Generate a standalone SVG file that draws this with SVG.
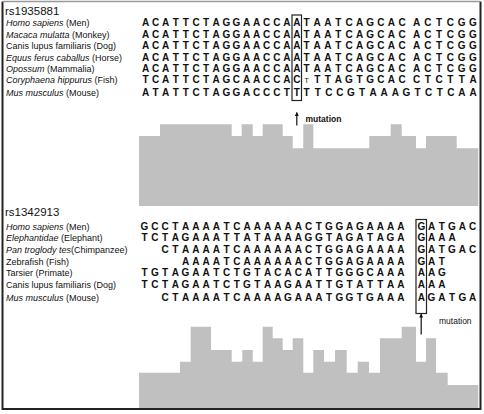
<svg xmlns="http://www.w3.org/2000/svg" width="484" height="414" viewBox="0 0 484 414">
<style>
.lbl{font-family:"Liberation Sans",Arial,sans-serif;font-size:9px;fill:#111}
.it{font-style:italic}
.rs{font-family:"Liberation Sans",Arial,sans-serif;font-size:11.5px;fill:#111}
.seq{font-family:"Liberation Sans",Arial,sans-serif;font-size:10px;font-weight:bold;fill:#111;text-anchor:middle}
.mut{font-family:"Liberation Sans",Arial,sans-serif;font-size:8.5px;fill:#111}
.bar{fill:#c0c0c0}
.box{fill:none;stroke:#222;stroke-width:1.2}
.arr{stroke:#111;stroke-width:1.2;fill:none;marker-end:url(#ah)}
</style>
<defs>
<marker id="ah" viewBox="0 0 10 10" refX="9" refY="5" markerWidth="4" markerHeight="4" orient="auto" markerUnits="userSpaceOnUse">
<path d="M0,0 L10,5 L0,10 Z" fill="#111"/>
</marker>
</defs>
<rect x="0" y="0" width="484" height="414" fill="#fff"/>

<g id="block1">
<text class="rs" x="5" y="15">rs1935881</text>
<g id="labels1" class="lbl">
<text x="6" y="26"><tspan class="it">Homo sapiens</tspan> (Men)</text>
<text x="6" y="37.5"><tspan class="it">Macaca mulatta</tspan> (Monkey)</text>
<text x="6" y="49">Canis lupus familiaris (Dog)</text>
<text x="6" y="60.5"><tspan class="it">Equus ferus caballus</tspan> (Horse)</text>
<text x="6" y="71.5"><tspan class="it">Opossum</tspan>  (Mammalia)</text>
<text x="6" y="83"><tspan class="it">Coryphaena hippurus</tspan> (Fish)</text>
<text x="6" y="95.5"><tspan class="it">Mus musculus</tspan> (Mouse)</text>
</g>
<g id="seqs1">
<text class="seq" y="26" x="145.5 155.6 165.7 175.8 185.9 196 206.1 216.2 226.3 236.4 246.5 256.6 266.7 276.8 286.9 296.8 306.6 317.2 327.8 338.4 349 359.6 370.2 380.8 391.4 402 416.5 427.8 439.1 450.4 461.7 473">ACATTCTAGGAACCAATAATCAGCACACTCGG</text>
<text class="seq" y="37.5" x="145.5 155.6 165.7 175.8 185.9 196 206.1 216.2 226.3 236.4 246.5 256.6 266.7 276.8 286.9 296.8 306.6 317.2 327.8 338.4 349 359.6 370.2 380.8 391.4 402 416.5 427.8 439.1 450.4 461.7 473">ACATTCTAGGAACCAATAATCAGCACACTCGG</text>
<text class="seq" y="49" x="145.5 155.6 165.7 175.8 185.9 196 206.1 216.2 226.3 236.4 246.5 256.6 266.7 276.8 286.9 296.8 306.6 317.2 327.8 338.4 349 359.6 370.2 380.8 391.4 402 416.5 427.8 439.1 450.4 461.7 473">ACATTCTAGGAACCAATAATCAGCACACTCGG</text>
<text class="seq" y="60.5" x="145.5 155.6 165.7 175.8 185.9 196 206.1 216.2 226.3 236.4 246.5 256.6 266.7 276.8 286.9 296.8 306.6 317.2 327.8 338.4 349 359.6 370.2 380.8 391.4 402 416.5 427.8 439.1 450.4 461.7 473">ACATTCTAGGAACCAATAATCAGCACACTCGG</text>
<text class="seq" y="71.5" x="145.5 155.6 165.7 175.8 185.9 196 206.1 216.2 226.3 236.4 246.5 256.6 266.7 276.8 286.9 296.8 306.6 317.2 327.8 338.4 349 359.6 370.2 380.8 391.4 402 416.5 427.8 439.1 450.4 461.7 473">ACATTCTAGGAACCAATAATCAGCACACTCGG</text>
<text class="seq" y="83" x="145.5 155.6 165.7 175.8 185.9 196 206.1 216.2 226.3 236.4 246.5 256.6 266.7 276.8 286.9 296.8 306.6 317.2 327.8 338.4 349 359.6 370.2 380.8 391.4 402 416.5 427.8 439.1 450.4 461.7 473">TCATTCTAGCAACCAC<tspan font-size="7" font-weight="normal">T</tspan>TTAGTGCACCTCTTA</text>
<text class="seq" y="95.5" x="145.5 155.6 165.7 175.8 185.9 196 206.1 216.2 226.3 236.4 246.5 256.6 266.7 276.8 286.9 296.8 306.6 317.7 328.8 339.9 351 362.1 373.1 384.2 395.3 406.4 417.5 428.6 439.7 450.8 461.9 473">ATATTCTAGGACCCTTTTCCGTAAAGTCTCAA</text>
</g>
<rect id="box1" class="box" x="292" y="15" width="9.5" height="85.5"/>
<path id="chart1" class="bar" d="M139,206 V136 H160 V124.3 H231.7 V136 H241.7 V124.3 H252.7 V136 H262.7 V124.3 H282.7 V136 H292.7 V148.3 H303.3 V124.3 H313.3 V148.3 H369.3 V136 H390.7 V124.3 H401.7 V136 H416 V148.3 H426 V136 H456.7 V148.3 H478.3 V206 Z"/>
<text class="mut" x="305.5" y="121.5" font-weight="bold" font-size="9">mutation</text>
</g>

<g id="block2">
<text class="rs" x="5" y="215.5">rs1342913</text>
<g id="labels2" class="lbl">
<text x="6" y="229.5"><tspan class="it">Homo sapiens</tspan> (Men)</text>
<text x="6" y="240.5"><tspan class="it">Elephantidae</tspan> (Elephant)</text>
<text x="6" y="252.5"><tspan class="it">Pan troglody tes</tspan>(Chimpanzee)</text>
<text x="6" y="264.5">Zebrafish (Fish)</text>
<text x="6" y="276">Tarsier (Primate)</text>
<text x="6" y="288">Canis lupus familiaris (Dog)</text>
<text x="6" y="300.5"><tspan class="it">Mus musculus</tspan> (Mouse)</text>
</g>
<g id="seqs2">
<text class="seq" y="229.5" x="144.5 154.8 165 175.3 185.5 195.8 206 216.3 226.5 236.8 247 257.3 267.5 277.8 288 298.3 308.5 318.8 329 339.3 349.5 359.8 370 380.3 390.5 400.8 421.3 431.5 441.8 452 462.3 472.5">GCCTAAAATCAAAAAACTGGAGAAAAGATGAC</text>
<text class="seq" y="240.5" x="144.5 154.8 165 175.3 185.5 195.8 206 216.3 226.5 236.8 247 257.3 267.5 277.8 288 298.3 308.5 318.8 329 339.3 349.5 359.8 370 380.3 390.5 400.8 421.3 431.5 441.8 452">TCTAGAAATTATAAAAGGTAGATAGAGAAA</text>
<text class="seq" y="252.5" x="165 175.3 185.5 195.8 206 216.3 226.5 236.8 247 257.3 267.5 277.8 288 298.3 308.5 318.8 329 339.3 349.5 359.8 370 380.3 390.5 400.8 421.3 431.5 441.8 452 462.3 472.5">CTAAAATCAAAAAACTGGAGAAAAGATGAC</text>
<text class="seq" y="264.5" x="185.5 195.8 206 216.3 226.5 236.8 247 257.3 267.5 277.8 288 298.3 308.5 318.8 329 339.3 349.5 359.8 370 380.3 390.5 400.8 421.3 431.5 441.8">AAAATCAAAAAACTGGAGAAAAGAT</text>
<text class="seq" y="276" x="144.5 154.8 165 175.3 185.5 195.8 206 216.3 226.5 236.8 247 257.3 267.5 277.8 288 298.3 308.5 318.8 329 339.3 349.5 359.8 370 380.3 390.5 400.8 421.3 431.5 441.8">TGTAGAATCTGTACACATTGGGCAAAAAG</text>
<text class="seq" y="288" x="144.5 154.8 165 175.3 185.5 195.8 206 216.3 226.5 236.8 247 257.3 267.5 277.8 288 298.3 308.5 318.8 329 339.3 349.5 359.8 370 380.3 390.5 400.8 421.3 431.5 441.8">TCTAGAATCTGTAAGAATTGTATTAAAAA</text>
<text class="seq" y="300.5" x="165 175.3 185.5 195.8 206 216.3 226.5 236.8 247 257.3 267.5 277.8 288 298.3 308.5 318.8 329 339.3 349.5 359.8 370 380.3 390.5 400.8 421.3 431.5 441.8 452 462.3 472.5">CTAAAATCAAAAGAAATGGTGAAAAGATGA</text>
</g>
<rect id="box2" class="box" x="416" y="219.5" width="10.5" height="94"/>
<path id="chart2" class="bar" d="M139,408 V372.7 H180 V361.7 H190.7 V326.7 H211 V350 H231.7 V361.7 H242.3 V350 H252.7 V361.7 H262.7 V326.7 H272.7 V338.3 H282.7 V350 H292.7 V338.3 H303.3 V372.7 H313.3 V350 H324 V361.7 H335 V350 H346.7 V372.7 H357.7 V361.7 H369 V372.7 H380 V338.3 H401.7 V326.7 H416 V361.7 H426 V338.3 H436 V372.7 H447.7 V385 H478.3 V408 Z"/>
<text class="mut" x="439" y="323.5">mutation</text>
</g>

<g id="connectors">
<line class="arr" x1="296.8" y1="125.5" x2="296.8" y2="112.5"/>
<line class="arr" x1="421.2" y1="334.5" x2="421.2" y2="314"/>
</g>

<g id="frame">
<path d="M2.5,1.5 V409 H480.5 V1.5" fill="none" stroke="#222" stroke-width="2"/>
<line x1="2.5" y1="1.5" x2="480.5" y2="1.5" stroke="#999" stroke-width="1.5"/>
</g>
</svg>
